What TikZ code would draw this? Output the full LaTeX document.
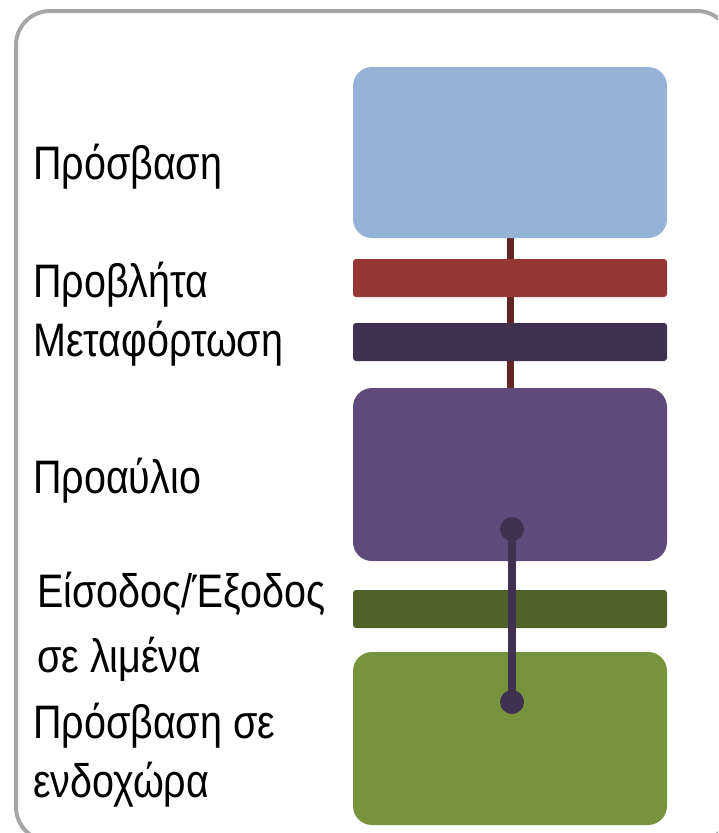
\documentclass[tikz,border=0pt]{standalone}
\usepackage{fontspec}
\setmainfont[FakeStretch=0.84]{Liberation Sans}
\definecolor{frame}{HTML}{A6A6A6}
\definecolor{cblue}{HTML}{95B3D7}
\definecolor{cred}{HTML}{953735}
\definecolor{cdpurple}{HTML}{403151}
\definecolor{cpurple}{HTML}{604A7B}
\definecolor{cdgreen}{HTML}{4F6228}
\definecolor{cgreen}{HTML}{77933C}
\definecolor{clinkred}{HTML}{632523}
\definecolor{clinkpurple}{HTML}{403151}
\tikzset{
  bigbox/.style={rounded corners=19pt},
  barbox/.style={rounded corners=3pt},
  lbl/.style={anchor=base west, inner sep=0pt, align=left, font=\fontsize{47}{59}\selectfont},
  dotc/.style={circle, fill=clinkpurple, minimum size=24pt, inner sep=0pt}
}
\begin{document}
\begin{tikzpicture}[x=1pt,y=-1pt]
\useasboundingbox (0,0) rectangle (718,833);
\begin{scope}
\clip (0,0) rectangle (718,833);
\draw[frame, line width=4pt, rounded corners=34pt] (16,11) rectangle (731,841);
\end{scope}
% connector behind
\coordinate (c1a) at (510.5,238);
\coordinate (c1b) at (510.5,388);
\draw[clinkred, line width=7pt] (c1a) -- (c1b);
% boxes
\fill[cblue, bigbox] (353,67) rectangle (667,238);
\fill[cred, barbox] (353,259) rectangle (667,297);
\fill[cdpurple, barbox] (353,323) rectangle (667,361);
\fill[cpurple, bigbox] (353,388) rectangle (667,561);
\fill[cdgreen, barbox] (353,590) rectangle (667,628);
\fill[cgreen, bigbox] (353,652) rectangle (667,825);
% connector 2
\node[dotc] (d1) at (512,529) {};
\node[dotc] (d2) at (512,702) {};
\draw[clinkpurple, line width=7.5pt] (d1.center) -- (d2.center);
% labels
\node[lbl] (t1) at (33,179) {Πρόσβαση};
\node[lbl] (t2) at (33,297) {Προβλήτα};
\node[lbl] (t3) at (33,356) {Μεταφόρτωση};
\node[lbl] (t4) at (33,493) {Προαύλιο};
\node[lbl] (t5) at (37,672) {Είσοδος/Έξοδος\\[6pt] σε λιμένα};
\node[lbl] (t6) at (33,797) {Πρόσβαση σε\\ενδοχώρα};
\end{tikzpicture}
\end{document}
